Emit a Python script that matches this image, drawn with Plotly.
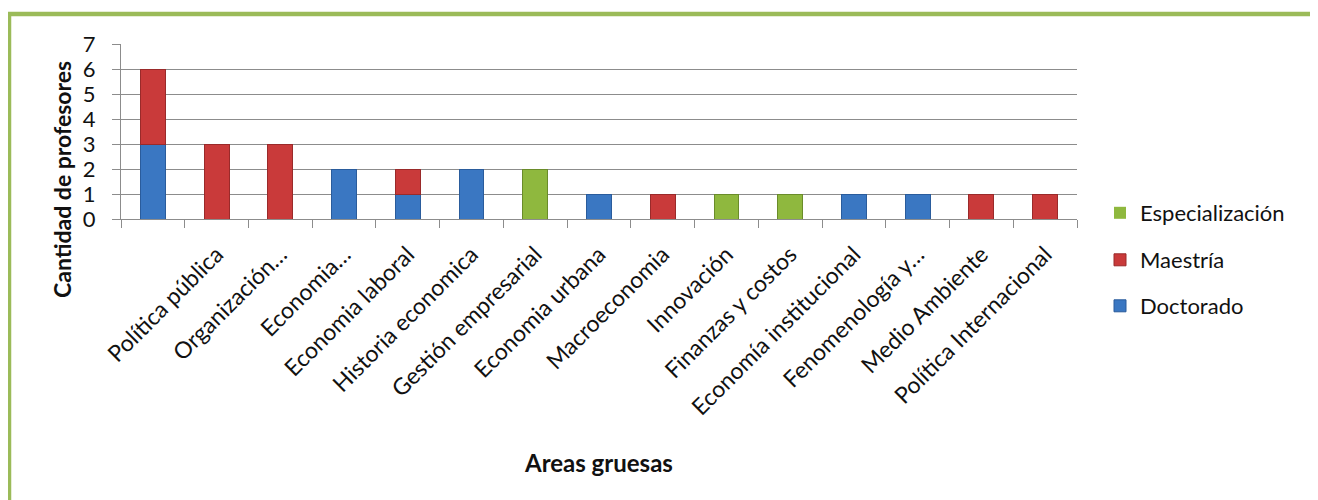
import plotly.graph_objects as go

categories = [" ", "Política pública", "Organización…", "Economia…", "Economia laboral",
              "Historia economica", "Gestión empresarial", "Economia urbana", "Macroeconomia",
              "Innovación", "Finanzas y costos", "Economía institucional", "Fenomenología y…",
              "Medio Ambiente", "Política Internacional"]
doctorado = [3, 0, 0, 2, 1, 2, 0, 1, 0, 0, 0, 1, 1, 0, 0]
maestria = [3, 3, 3, 0, 1, 0, 0, 0, 1, 0, 0, 0, 0, 1, 1]
especializacion = [0, 0, 0, 0, 0, 0, 2, 0, 0, 1, 1, 0, 0, 0, 0]
y_ticks = [0, 1, 2, 3, 4, 5, 6, 7]

FONT = "Lato"
OFF = 8  # default page body margin
W, H = 1318 - OFF, 500 - OFF
L, R, T, B = 121 - OFF, 1077 - OFF, 44 - OFF, 219 - OFF  # plot area (figure px)


def px(x):
    return (x - OFF - L) / (R - L)


def py(y):
    return (B - (y - OFF)) / (B - T)


fig = go.Figure()
series = [
    ("Doctorado", doctorado, "#3A77C2", "#2A5C9C", "legend3"),
    ("Maestría", maestria, "#C93A3A", "#9A2A2A", "legend2"),
    ("Especialización", especializacion, "#8FB83E", "#6A8C2A", "legend"),
]
for name, vals, col, edge, lg in series:
    fig.add_trace(go.Bar(
        x=categories, y=vals, name=name, legend=lg, showlegend=True,
        marker=dict(color=col, line=dict(color=edge, width=[1 if v else 0 for v in vals])),
    ))

legend_common = dict(
    font=dict(family=FONT, size=22, color="#111111"),
    bgcolor="rgba(0,0,0,0)", xanchor="left", yanchor="middle",
    itemwidth=30,
)
fig.update_layout(
    width=W, height=H, showlegend=True,
    margin=dict(l=L, r=W - R, t=T, b=H - B),
    barmode="stack", bargap=0.61,
    paper_bgcolor="white", plot_bgcolor="white",
    font=dict(family=FONT, color="#111111"),
    legend=dict(x=px(1100), y=py(213), **legend_common),
    legend2=dict(x=px(1100), y=py(260), **legend_common),
    legend3=dict(x=px(1100), y=py(306), **legend_common),
    xaxis=dict(
        type="category", categoryorder="array", categoryarray=categories,
        tickangle=-45, tickfont=dict(family=FONT, size=23, color="#111111"),
        ticks="outside", tickson="boundaries", ticklen=8, tickcolor="#8C8C8C",
        showline=True, linecolor="#8C8C8C", linewidth=1,
        showgrid=False, ticklabelstandoff=12,
    ),
    yaxis=dict(
        range=[0, 7], tickvals=y_ticks, tickfont=dict(family=FONT, size=22, color="#111111"),
        ticks="outside", ticklen=8, tickcolor="#8C8C8C",
        showline=True, linecolor="#8C8C8C", linewidth=1,
        showgrid=True, gridcolor="#8C8C8C", gridwidth=1, zeroline=False,
        ticklabelstandoff=12,
    ),
    annotations=[
        dict(text="<b>Cantidad de profesores</b>", textangle=-90, xref="paper", yref="paper",
             x=px(62), y=py(180), showarrow=False, xanchor="center", yanchor="middle",
             font=dict(family=FONT, size=23, color="#111111")),
        dict(text="<b>Areas gruesas</b>", xref="paper", yref="paper",
             x=px(598), y=py(462), showarrow=False, xanchor="center", yanchor="middle",
             font=dict(family=FONT, size=24, color="#111111")),
    ],
    shapes=[
        dict(type="rect", xref="paper", yref="paper",
             x0=px(9), x1=px(1314.5), y0=py(520), y1=py(14),
             line=dict(color="#9BBB59", width=4.5), fillcolor="rgba(0,0,0,0)", layer="above"),
    ],
)

fig.write_html("out.html")
